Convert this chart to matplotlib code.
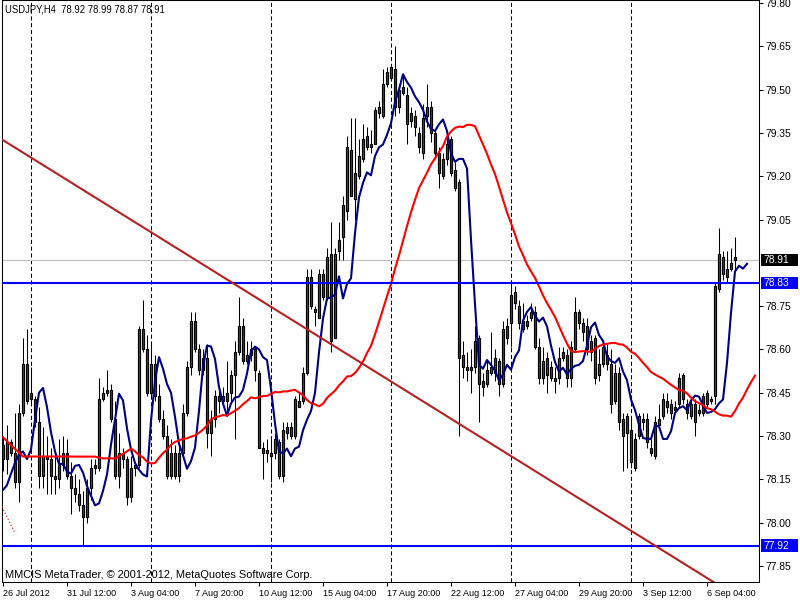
"""
USDJPY H4 candlestick chart, MetaTrader style
"""
import numpy as np
import pandas as pd
import matplotlib
matplotlib.use("Agg")
import matplotlib.pyplot as plt
from matplotlib.patches import Rectangle
from matplotlib.transforms import blended_transform_factory

# ── bar data (bar 0 = 26 Jul 2012 20:00, 4h bars) ─────────────────────
opens = [
    78.27, 78.22, 78.28, 78.24, 78.14, 78.38, 78.55, 78.45, 78.43, 78.35,
    78.16, 78.23, 78.22, 78.16, 78.15, 78.20, 78.24, 78.16, 78.12, 78.10,
    78.06, 78.02, 78.12, 78.20, 78.19, 78.43, 78.45, 78.46, 78.36, 78.16,
    78.24, 78.22, 78.09, 78.19, 78.20, 78.67, 78.60, 78.45, 78.55, 78.44,
    78.36, 78.30, 78.16, 78.24, 78.16, 78.24, 78.38, 78.54, 78.70, 78.60,
    78.53, 78.57, 78.31, 78.36, 78.42, 78.44, 78.42, 78.45, 78.51, 78.59,
    78.68, 78.58, 78.58, 78.60, 78.52, 78.26, 78.25, 78.23, 78.24, 78.28,
    78.16, 78.33, 78.30, 78.30, 78.42, 78.42, 78.52, 78.85, 78.74, 78.71,
    78.86, 78.78, 78.93, 78.64, 78.94, 78.99, 79.08, 79.29, 79.12, 79.20,
    79.26, 79.34, 79.31, 79.31, 79.44, 79.41, 79.52, 79.54, 79.57, 79.44,
    79.51, 79.48, 79.39, 79.41, 79.35, 79.28, 79.41, 79.44, 79.35, 79.28,
    79.20, 79.26, 79.33, 79.22, 79.18, 78.58, 78.54, 78.54, 78.54, 78.64,
    78.49, 78.48, 78.52, 78.52, 78.56, 78.48, 78.68, 78.69, 78.80, 78.75,
    78.67, 78.68, 78.71, 78.73, 78.61, 78.50, 78.57, 78.50, 78.50, 78.50,
    78.59, 78.58, 78.50, 78.60, 78.73, 78.69, 78.68, 78.59, 78.64, 78.51,
    78.55, 78.58, 78.55, 78.42, 78.52, 78.36, 78.31, 78.32, 78.19, 78.30,
    78.36, 78.36, 78.26, 78.23, 78.34, 78.37, 78.42, 78.41, 78.40, 78.41,
    78.51, 78.41, 78.37, 78.41, 78.38, 78.38, 78.45, 78.42, 78.44, 78.81,
    78.92, 78.85, 78.88, 78.92,
]
highs = [
    78.30, 78.34, 78.29, 78.38, 78.41, 78.64, 78.67, 78.54, 78.44, 78.40,
    78.33, 78.30, 78.26, 78.24, 78.29, 78.30, 78.29, 78.21, 78.17, 78.15,
    78.11, 78.15, 78.22, 78.22, 78.50, 78.47, 78.53, 78.48, 78.42, 78.31,
    78.26, 78.23, 78.23, 78.21, 78.68, 78.77, 78.65, 78.62, 78.58, 78.48,
    78.39, 78.34, 78.29, 78.27, 78.27, 78.41, 78.56, 78.73, 78.73, 78.62,
    78.60, 78.62, 78.39, 78.46, 78.47, 78.47, 78.56, 78.53, 78.63, 78.78,
    78.71, 78.63, 78.63, 78.61, 78.53, 78.28, 78.29, 78.29, 78.31, 78.29,
    78.35, 78.35, 78.35, 78.44, 78.45, 78.54, 78.88, 78.88, 78.75, 78.88,
    78.88, 78.95, 79.04, 78.95, 79.04, 79.13, 79.34, 79.40, 79.40, 79.33,
    79.38, 79.37, 79.36, 79.44, 79.46, 79.57, 79.58, 79.59, 79.65, 79.52,
    79.55, 79.51, 79.44, 79.43, 79.37, 79.45, 79.52, 79.46, 79.36, 79.30,
    79.28, 79.34, 79.34, 79.25, 79.19, 78.63, 78.59, 78.60, 78.68, 78.65,
    78.52, 78.56, 78.66, 78.60, 78.57, 78.70, 78.71, 78.84, 78.82, 78.77,
    78.76, 78.72, 78.76, 78.75, 78.64, 78.61, 78.59, 78.56, 78.54, 78.61,
    78.61, 78.60, 78.63, 78.78, 78.74, 78.71, 78.71, 78.65, 78.65, 78.60,
    78.63, 78.62, 78.60, 78.55, 78.54, 78.38, 78.38, 78.36, 78.31, 78.38,
    78.38, 78.38, 78.29, 78.37, 78.41, 78.45, 78.45, 78.43, 78.42, 78.52,
    78.52, 78.43, 78.43, 78.43, 78.41, 78.45, 78.46, 78.44, 78.83, 79.02,
    78.94, 78.94, 78.95, 78.99,
]
lows = [
    78.18, 78.17, 78.23, 78.12, 78.07, 78.37, 78.41, 78.41, 78.33, 78.12,
    78.12, 78.10, 78.10, 78.10, 78.12, 78.18, 78.15, 78.03, 78.07, 78.04,
    77.92, 78.00, 78.08, 78.17, 78.18, 78.42, 78.44, 78.35, 78.15, 78.12,
    78.19, 78.06, 78.07, 78.16, 78.19, 78.59, 78.44, 78.44, 78.42, 78.35,
    78.29, 78.15, 78.15, 78.15, 78.14, 78.23, 78.37, 78.51, 78.59, 78.51,
    78.51, 78.26, 78.23, 78.33, 78.38, 78.40, 78.37, 78.42, 78.29, 78.58,
    78.55, 78.55, 78.56, 78.49, 78.26, 78.15, 78.21, 78.14, 78.22, 78.15,
    78.14, 78.29, 78.29, 78.29, 78.40, 78.41, 78.51, 78.74, 78.68, 78.71,
    78.77, 78.77, 78.59, 78.64, 78.91, 78.91, 79.05, 79.13, 79.05, 79.19,
    79.25, 79.29, 79.28, 79.31, 79.40, 79.40, 79.51, 79.53, 79.41, 79.42,
    79.48, 79.31, 79.37, 79.34, 79.28, 79.26, 79.37, 79.32, 79.26, 79.16,
    79.19, 79.24, 79.20, 79.15, 78.30, 78.50, 78.49, 78.45, 78.52, 78.35,
    78.44, 78.47, 78.51, 78.49, 78.44, 78.47, 78.62, 78.61, 78.74, 78.67,
    78.66, 78.67, 78.70, 78.60, 78.48, 78.48, 78.45, 78.49, 78.45, 78.48,
    78.56, 78.47, 78.47, 78.59, 78.67, 78.63, 78.58, 78.56, 78.48, 78.49,
    78.54, 78.53, 78.38, 78.41, 78.32, 78.18, 78.19, 78.19, 78.18, 78.29,
    78.32, 78.26, 78.23, 78.22, 78.33, 78.36, 78.38, 78.36, 78.38, 78.40,
    78.41, 78.36, 78.36, 78.30, 78.37, 78.37, 78.40, 78.41, 78.41, 78.80,
    78.84, 78.83, 78.87, 78.87,
]
closes = [
    78.22, 78.28, 78.24, 78.14, 78.38, 78.55, 78.42, 78.43, 78.35, 78.16,
    78.23, 78.22, 78.16, 78.15, 78.20, 78.24, 78.16, 78.12, 78.10, 78.06,
    78.02, 78.12, 78.19, 78.19, 78.43, 78.45, 78.46, 78.36, 78.16, 78.24,
    78.22, 78.09, 78.19, 78.20, 78.67, 78.60, 78.45, 78.55, 78.44, 78.36,
    78.30, 78.16, 78.24, 78.16, 78.24, 78.38, 78.54, 78.70, 78.60, 78.53,
    78.57, 78.31, 78.36, 78.44, 78.44, 78.42, 78.45, 78.51, 78.59, 78.68,
    78.56, 78.56, 78.60, 78.53, 78.26, 78.24, 78.24, 78.24, 78.29, 78.16,
    78.32, 78.31, 78.33, 78.43, 78.40, 78.52, 78.85, 78.75, 78.73, 78.86,
    78.78, 78.92, 78.63, 78.93, 78.98, 79.10, 79.30, 79.13, 79.21, 79.27,
    79.33, 79.30, 79.30, 79.43, 79.42, 79.52, 79.56, 79.58, 79.44, 79.50,
    79.49, 79.38, 79.42, 79.37, 79.30, 79.40, 79.44, 79.35, 79.28, 79.21,
    79.26, 79.31, 79.21, 79.16, 78.57, 78.54, 78.53, 78.53, 78.63, 78.48,
    78.47, 78.53, 78.54, 78.57, 78.48, 78.67, 78.64, 78.79, 78.76, 78.69,
    78.70, 78.70, 78.73, 78.61, 78.50, 78.56, 78.51, 78.54, 78.49, 78.57,
    78.57, 78.50, 78.61, 78.73, 78.69, 78.66, 78.60, 78.63, 78.50, 78.55,
    78.61, 78.55, 78.41, 78.52, 78.35, 78.30, 78.37, 78.21, 78.29, 78.37,
    78.35, 78.28, 78.24, 78.35, 78.36, 78.43, 78.40, 78.38, 78.39, 78.50,
    78.43, 78.38, 78.41, 78.35, 78.39, 78.44, 78.41, 78.43, 78.82, 78.93,
    78.86, 78.88, 78.90, 78.91,
]
# closes of the 28 bars before the visible window (needed by the MAs)
pre_closes = [
    78.42, 78.44, 78.49, 78.53, 78.54, 78.28, 78.24, 78.14, 78.38, 78.55,
    78.42, 78.43, 78.35, 78.16, 78.23, 78.22, 78.16, 78.16, 78.20, 78.24,
    78.16, 78.12, 78.10, 78.14, 78.09, 78.11, 78.19, 78.21,
]

fast_period, fast_shift = 3, 3
slow_period, slow_shift = 24, 5

time_tick_bars = [0, 16, 32, 48, 64, 80, 96, 112, 128, 144, 160, 176]
time_tick_labels = ["26 Jul 2012", "31 Jul 12:00", "3 Aug 04:00", "7 Aug 20:00",
                    "10 Aug 12:00", "15 Aug 04:00", "17 Aug 20:00", "22 Aug 12:00",
                    "27 Aug 04:00", "29 Aug 20:00", "3 Sep 12:00", "6 Sep 04:00"]
week_sep_bars = [7, 37, 67, 97, 127, 157]
price_ticks = [79.80, 79.65, 79.50, 79.35, 79.20, 79.05, 78.75,
               78.60, 78.45, 78.30, 78.15, 78.00, 77.85]

hline_levels = [78.83, 77.92]
bid_price = 78.91
trend_bars = [0, 176.75]
trend_prices = [79.325, 77.802]
dotted_bars = [-0.25, 3.0]
dotted_prices = [78.055, 77.964]

title_text = "USDJPY,H4  78.92 78.99 78.87 78.91"
footer_text = "MMCIS MetaTrader, \u00a9 2001-2012, MetaQuotes Software Corp."

FONT = "Liberation Sans"

# ── figure ────────────────────────────────────────────────────────────
fig = plt.figure(figsize=(8, 6), dpi=100)
ax = fig.add_axes([2 / 800, 18 / 600, 757 / 800, 582 / 600])
ax.set_xlim(-0.25, 189.0)
ax.set_ylim(77.7945, 79.8104)

o = np.array(opens)
h = np.array(highs)
l = np.array(lows)
c = np.array(closes)
x = np.arange(len(c))

# weekly separators
for b in week_sep_bars:
    ax.axvline(b, color="black", lw=0.75, ls=(0, (4, 2.5)), zorder=1)

# candles
ax.vlines(x, l, h, color="black", lw=0.75, zorder=2)
up = c >= o
body_lo = np.minimum(o, c)
body_h = np.maximum(np.abs(c - o), 0.004)
ax.bar(x, body_h, bottom=body_lo, width=0.72,
       color=np.where(up, "#008000", "#e00000"),
       edgecolor="black", linewidth=0.85, zorder=3)

# moving averages (shifted forward)
all_close = pd.Series(pre_closes + closes)
pos = np.arange(len(all_close)) - len(pre_closes)
fast = all_close.rolling(fast_period).mean()
slow = all_close.rolling(slow_period).mean()
ax.plot(pos + fast_shift, fast, color="#000080", lw=1.5, zorder=4)
ax.plot(pos + slow_shift, slow, color="#ff0000", lw=1.5, zorder=4)

# objects
ax.axhline(bid_price, color="#c0c0c0", lw=0.8, zorder=1)
for lv in hline_levels:
    ax.axhline(lv, color="#0000ff", lw=1.5, zorder=5)
tx = np.array(trend_bars)
ty = np.array(trend_prices)
slope = (ty[1] - ty[0]) / (tx[1] - tx[0])
ext = np.array([-0.25, 185.0])
ax.plot(ext, ty[0] + slope * (ext - tx[0]), color="#b22222", lw=1.5, zorder=5)
ax.plot(dotted_bars, dotted_prices, color="red", lw=0.8, ls=(0, (1, 2)), zorder=5)

# axes styling
for s in ax.spines.values():
    s.set_color("black")
    s.set_linewidth(0.75)
ax.yaxis.tick_right()
ax.set_yticks(price_ticks)
ax.set_yticklabels([f"{p:.2f}" for p in price_ticks], fontsize=7.4, family=FONT)
ax.set_xticks(time_tick_bars)
ax.set_xticklabels(time_tick_labels, fontsize=6.5, family=FONT, ha="left")
ax.tick_params(axis="both", direction="out", length=3, width=0.75, pad=1.5)
ax.tick_params(axis="x", pad=2)

# price boxes on the right scale
trans = blended_transform_factory(ax.transAxes, ax.transData)
for price, fc in [(bid_price, "black")] + [(lv, "#0000ff") for lv in hline_levels]:
    ax.add_patch(Rectangle((1.002, price - 0.022), 0.049, 0.044, transform=trans,
                           facecolor=fc, edgecolor="none", clip_on=False, zorder=6))
    ax.text(1.0055, price, f"{price:.2f}", transform=trans, color="white",
            va="center", ha="left", fontsize=7.4, family=FONT, clip_on=False, zorder=7)

fig.text(5 / 800, 1 - 10 / 600, title_text, fontsize=6.85, family=FONT,
         va="center", ha="left")
fig.text(5 / 800, 1 - 575 / 600, footer_text, fontsize=7.9, family=FONT,
         va="center", ha="left")

fig.savefig("out.png", dpi=100)
